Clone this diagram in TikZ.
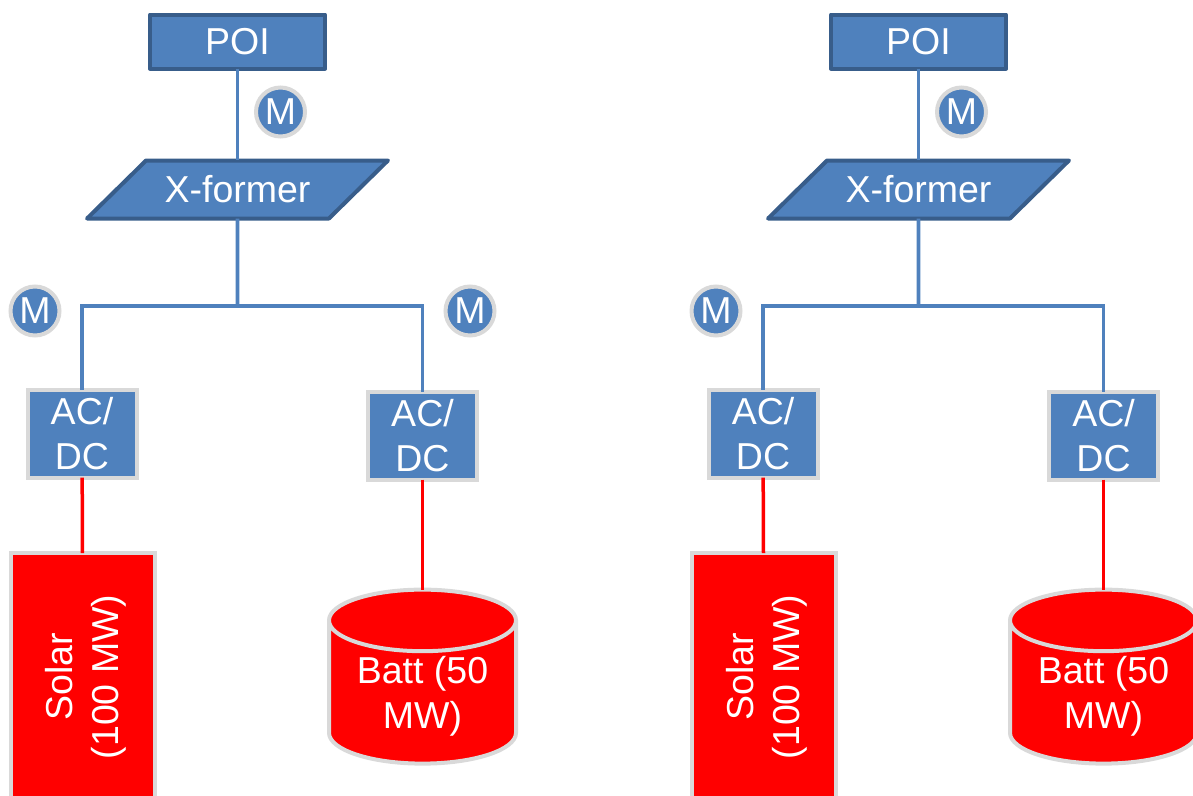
\documentclass[tikz,border=0pt]{standalone}
\usepackage{fontspec}
\setmainfont{Liberation Sans}
\usetikzlibrary{shapes.geometric}
\definecolor{fillblue}{HTML}{4F81BD}
\definecolor{darkblue}{HTML}{385D8A}
\definecolor{lightedge}{HTML}{D9D9D9}
\definecolor{pure}{HTML}{FF0000}
\tikzset{
  x=1pt,y=-1pt,
  lbl/.style={text=white,font=\fontsize{37.5pt}{45.5pt}\selectfont,align=center,inner sep=0pt,outer sep=0pt},
  darkbox/.style={lbl,fill=fillblue,draw=darkblue,line width=4pt,line join=round},
  lightbox/.style={lbl,fill=fillblue,draw=lightedge,line width=4pt},
  redbox/.style={lbl,fill=pure,draw=lightedge,line width=4pt},
  poibox/.style={darkbox,rectangle,minimum width=175pt,minimum height=54pt},
  xfbox/.style={darkbox,trapezium,trapezium left angle=30.3,trapezium right angle=149.7,trapezium stretches=true,minimum width=301pt,minimum height=58pt},
  acbox/.style={lightbox,rectangle,minimum width=109pt,minimum height=88pt},
  solarbox/.style={redbox,rectangle,minimum width=144pt,minimum height=248pt},
  battbox/.style={redbox,cylinder,shape border rotate=90,aspect=0.47,minimum width=187pt,minimum height=174pt},
  meter/.style={lbl,circle,fill=fillblue,draw=lightedge,line width=4pt,minimum size=49pt},
  acline/.style={draw=fillblue,line width=3.8pt},
  busline/.style={draw=fillblue,line width=3.2pt},
  dcline/.style={draw=pure,line width=3.5pt},
}
\newcommand{\sidegraph}[2]{%
  \begin{scope}[xshift=#2pt]
    \node[poibox] (#1poi) at (237.5,41.5) {POI};
    \node[xfbox] (#1xf) at (237.5,189.5) {X-former};
    \coordinate (#1bus) at (237.5,306);
    \node[acbox] (#1acs) at (82,433.5) {AC/\\DC};
    \node[acbox] (#1acb) at (422.5,435.5) {AC/\\DC};
    \node[solarbox] (#1solar) at (83,677) {};
    \node[lbl,rotate=90] (#1solart) at (86,677) {Solar\\(100 MW)};
    \node[battbox] (#1batt) at (422.5,693) {\phantom{\rule{131pt}{1pt}}};
    \node[lbl] (#1battt) at (422.5,696.5) {Batt (50\\MW)};
    \node[meter] (#1mtop) at (280.5,112) {M};
    \node[meter] (#1mleft) at (35,311) {M};
    \draw[acline] (#1poi) -- (#1xf);
    \draw[acline] (#1xf) -- (#1bus);
    \draw[busline] (#1acs) |- (#1bus);
    \draw[busline] (#1acb) |- (#1bus);
    \draw[dcline] (#1acs) -- (#1solar);
    \draw[dcline] (#1acb) -- (#1batt);
  \end{scope}%
}
\begin{document}
\begin{tikzpicture}
  \useasboundingbox (0,0) rectangle (1193,795);
  \clip (0,0) rectangle (1193,795);
  \sidegraph{a}{0}
  \sidegraph{b}{681}
  \node[meter] (amright) at (470,311) {M};
\end{tikzpicture}
\end{document}
